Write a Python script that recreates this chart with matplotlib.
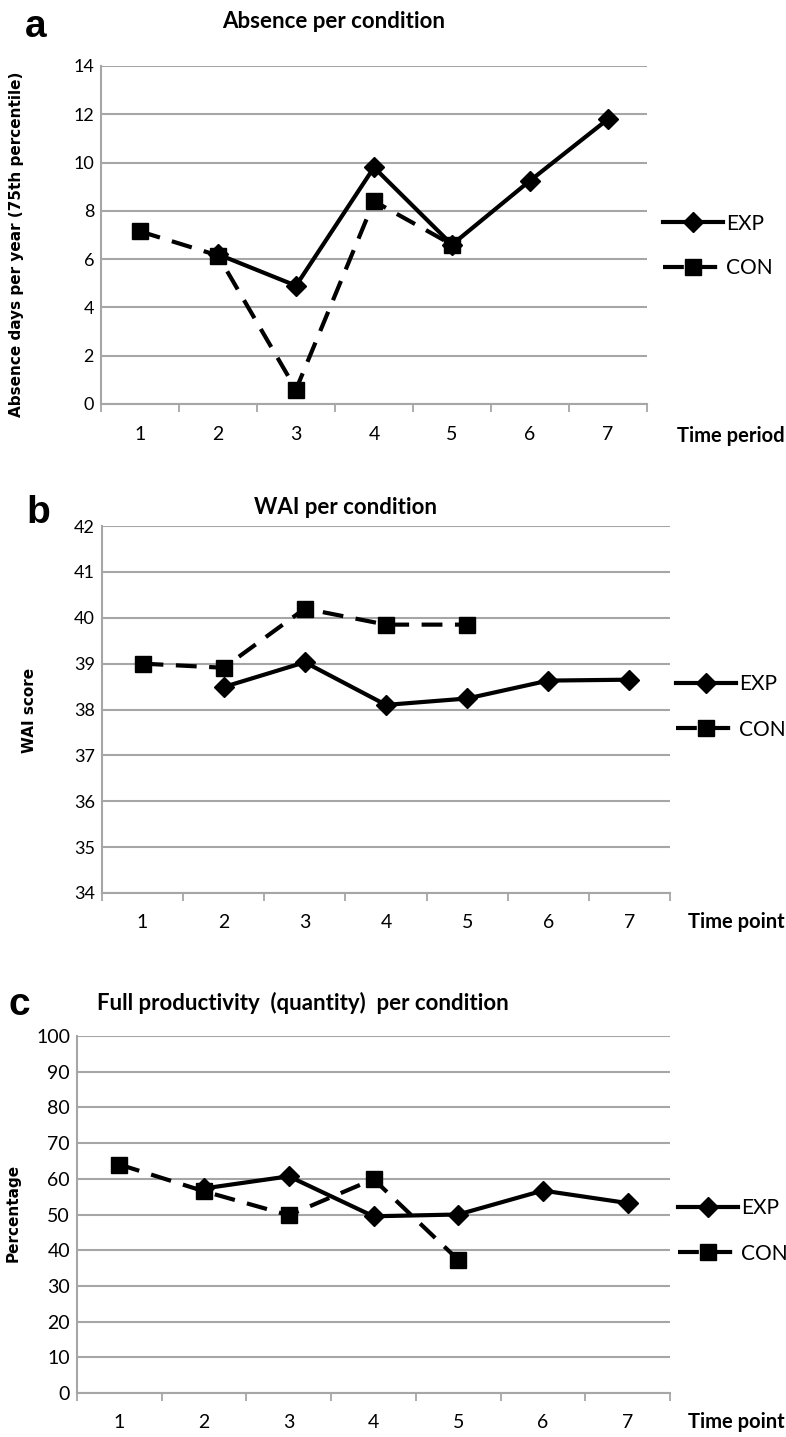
import matplotlib
matplotlib.use("Agg")
import matplotlib.pyplot as plt
import numpy as np

plt.rcParams['font.family'] = ['Lato', 'DejaVu Sans']

# data
time_points = [1, 2, 3, 4, 5, 6, 7]

absence_exp_x = [2, 3, 4, 5, 6, 7]
absence_exp = [6.2, 4.9, 9.8, 6.6, 9.25, 11.8]
absence_con_x = [1, 2, 3, 4, 5]
absence_con = [7.15, 6.15, 0.6, 8.4, 6.6]

wai_exp_x = [2, 3, 4, 5, 6, 7]
wai_exp = [38.49, 39.03, 38.1, 38.24, 38.63, 38.65]
wai_con_x = [1, 2, 3, 4, 5]
wai_con = [39.0, 38.91, 40.2, 39.85, 39.85]

prod_exp_x = [2, 3, 4, 5, 6, 7]
prod_exp = [57.3, 60.7, 49.5, 50.0, 56.7, 53.2]
prod_con_x = [1, 2, 3, 4, 5]
prod_con = [64.0, 56.5, 49.8, 59.9, 37.3]

W, H = 786, 1437
fig = plt.figure(figsize=(W / 100, H / 100), dpi=100)

def px_rect(l, t, r, b):
    return [l / W, 1 - b / H, (r - l) / W, (b - t) / H]

def fx(x):
    return x / W

def fy(y):
    return 1 - y / H

GRID = '#a6a6a6'

def draw_panel(rect, exp_x, exp_y, con_x, con_y, ylim, ystep, ytick_fs, xtick_fs, xpad):
    ax = fig.add_axes(px_rect(*rect))
    ax.plot(exp_x, exp_y, color='black', lw=3, marker='D', ms=10,
            label='EXP', zorder=3)
    ax.plot(con_x, con_y, color='black', lw=3, marker='s', ms=12,
            dashes=(5, 3), label='CON', zorder=3)
    ax.set_xlim(0.5, 7.5)
    ax.set_ylim(*ylim)
    ax.set_yticks(np.arange(ylim[0], ylim[1] + 0.01, ystep))
    ax.set_xticks(time_points)
    ax.set_xticks(np.arange(0.5, 7.6, 1), minor=True)
    ax.tick_params(axis='x', which='major', length=0, pad=xpad, labelsize=xtick_fs)
    ax.tick_params(axis='x', which='minor', length=6, width=1.3, color=GRID,
                   direction='out')
    ax.tick_params(axis='y', length=0, pad=5, labelsize=ytick_fs)
    ax.grid(axis='y', color=GRID, lw=1.5)
    ax.set_axisbelow(True)
    for s in ['top', 'right']:
        ax.spines[s].set_visible(False)
    for s in ['left', 'bottom']:
        ax.spines[s].set_color(GRID)
        ax.spines[s].set_linewidth(1.5)
    return ax

def add_legend(ax, x, y):
    ax.legend(loc='center left', bbox_to_anchor=(fx(x), fy(y)),
              bbox_transform=fig.transFigure, frameon=False, fontsize=15,
              handlelength=2.9, handletextpad=0.12, labelspacing=1.2,
              borderpad=0, borderaxespad=0, numpoints=1)

# panel a
ax_a = draw_panel((101, 66, 647, 404), absence_exp_x, absence_exp,
                  absence_con_x, absence_con, (0, 14), 2, 13, 14, 16)
add_legend(ax_a, 663, 246)
fig.text(fx(36), fy(37), 'a', fontsize=28, fontweight='bold',
         family='Liberation Sans', ha='center', va='baseline')
fig.text(fx(334), fy(28), 'Absence per condition', fontsize=16,
         fontweight='bold', ha='center', va='baseline')
fig.text(fx(17), fy(244), 'Absence days per year (75th percentile)',
         fontsize=11, fontweight='bold', family='DejaVu Sans', rotation=90,
         ha='center', va='center')
fig.text(fx(677), fy(436), 'Time period', fontsize=14.5, fontweight='bold',
         ha='left', va='center')

# panel b
ax_b = draw_panel((102, 526, 670, 893), wai_exp_x, wai_exp,
                  wai_con_x, wai_con, (34, 42), 1, 13, 14, 15)
add_legend(ax_b, 676, 707)
fig.text(fx(38), fy(523), 'b', fontsize=28, fontweight='bold',
         family='Liberation Sans', ha='center', va='baseline')
fig.text(fx(346), fy(514), 'WAI per condition', fontsize=16,
         fontweight='bold', ha='center', va='baseline')
fig.text(fx(30), fy(710), 'WAI score', fontsize=11, fontweight='bold',
         family='DejaVu Sans', rotation=90, ha='center', va='center')
fig.text(fx(688), fy(922), 'Time point', fontsize=14.5, fontweight='bold',
         ha='left', va='center')

# panel c
ax_c = draw_panel((77, 1036, 670, 1393), prod_exp_x, prod_exp,
                  prod_con_x, prod_con, (0, 100), 10, 14, 14, 15)
add_legend(ax_c, 678, 1231)
fig.text(fx(19), fy(1015), 'c', fontsize=28, fontweight='bold',
         family='Liberation Sans', ha='center', va='baseline')
fig.text(fx(97), fy(1010), 'Full productivity  (quantity)  per condition',
         fontsize=16, fontweight='bold', ha='left', va='baseline')
fig.text(fx(13), fy(1213), 'Percentage', fontsize=11, fontweight='bold',
         family='DejaVu Sans', rotation=90, ha='center', va='center')
fig.text(fx(688), fy(1422), 'Time point', fontsize=14.5, fontweight='bold',
         ha='left', va='center')

fig.savefig('out.png', dpi=100)
